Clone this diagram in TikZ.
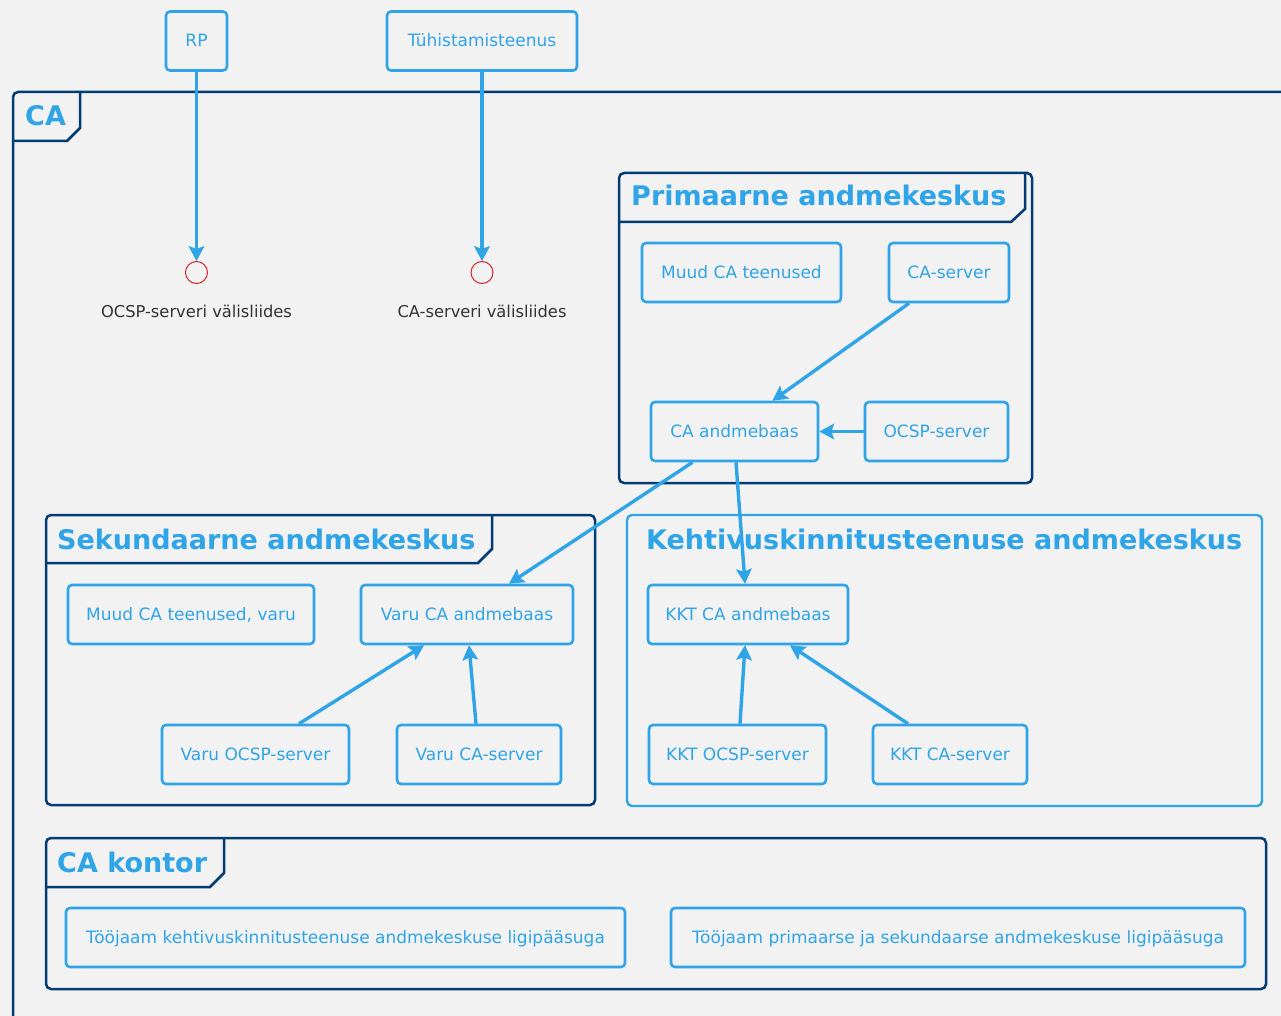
\documentclass[tikz,border=0pt]{standalone}
\usepackage{fontspec}
\setmainfont{DejaVu Sans}
\usetikzlibrary{arrows.meta}

\definecolor{bg}{HTML}{F2F2F2}
\definecolor{cblue}{HTML}{2FA4E7}
\definecolor{cdark}{HTML}{033C73}
\definecolor{cred}{HTML}{D9212C}
\definecolor{ctext}{HTML}{333333}

\tikzset{
  box/.style={draw=cblue, line width=2.6pt, rounded corners=4pt, text=cblue,
    inner sep=0pt, text height=12pt, text depth=0pt,
    font=\fontsize{17}{20}\selectfont, minimum height=59pt},
  frame/.style={draw=cdark, line width=2.5pt, rounded corners=5pt},
  lframe/.style={draw=cblue, line width=2.4pt, rounded corners=5pt},
  tabline/.style={draw=cdark, line width=2.5pt},
  ftitle/.style={anchor=base west, inner sep=0pt, text=cblue,
    font=\fontsize{27}{31}\selectfont\bfseries},
  iface/.style={circle, draw=cred, line width=1pt, minimum size=22pt, inner sep=0pt},
  ilabel/.style={anchor=base, inner sep=0pt, text=ctext,
    font=\fontsize{16.3}{19}\selectfont},
  arr/.style={draw=cblue, line width=3.4pt,
    -{Stealth[length=15pt, width=16pt, inset=3pt, line width=0.8pt]}},
}

\begin{document}
\begin{tikzpicture}[x=1pt, y=-1pt]
\useasboundingbox (0,0) rectangle (1281,1016);
\fill[bg] (0,0) rectangle (1281,1016);

% outer CA package
\draw[frame] (13,1040) -- (13,92) -- (1300,92);
\draw[tabline] (13,141) -- (67,141) -- (80,128) -- (80,92);
\node[ftitle] (tca) at (25,126) {CA};

% actors outside the package
\node[box, minimum width=61pt] (rp) at (196.5,41) {RP};
\node[box, minimum width=190pt] (tuh) at (482,41) {Tühistamisteenus};

% external interfaces
\node[iface] (ocspif) at (196.5,272.5) {};
\node[iface] (caif) at (482,272.5) {};
\node[ilabel] (locspif) at (196.5,317) {OCSP-serveri välisliides};
\node[ilabel] (lcaif) at (482,317) {CA-serveri välisliides};

% primary data centre
\draw[frame] (619,173) rectangle (1032,483);
\draw[tabline] (619,222) -- (1011,222) -- (1025,209) -- (1025,173);
\node[ftitle] (tprim) at (631,206) {Primaarne andmekeskus};
\node[box, minimum width=199pt] (muud) at (741.5,272.5) {Muud CA teenused};
\node[box, minimum width=120pt] (caserver) at (949,272.5) {CA-server};
\node[box, minimum width=167pt] (cadb) at (734.5,431.5) {CA andmebaas};
\node[box, minimum width=143pt] (ocsp) at (936.5,431.5) {OCSP-server};

% secondary data centre
\draw[frame] (46,515) rectangle (595,805);
\draw[tabline] (46,563) -- (478,563) -- (492,549) -- (492,515);
\node[ftitle] (tsek) at (57,549) {Sekundaarne andmekeskus};
\node[box, minimum width=246pt] (muudvaru) at (191,614.5) {Muud CA teenused, varu};
\node[box, minimum width=212pt] (varudb) at (467,614.5) {Varu CA andmebaas};
\node[box, minimum width=187pt] (varuocsp) at (255.5,754.5) {Varu OCSP-server};
\node[box, minimum width=164pt] (varuca) at (479,754.5) {Varu CA-server};

% validation service data centre
\draw[lframe] (627,515) rectangle (1262,806);
\node[ftitle] (tkkt) at (646,549) {Kehtivuskinnitusteenuse andmekeskus};
\node[box, minimum width=200pt] (kktdb) at (748,614.5) {KKT CA andmebaas};
\node[box, minimum width=177pt] (kktocsp) at (737.5,754.5) {KKT OCSP-server};
\node[box, minimum width=154pt] (kktca) at (950,754.5) {KKT CA-server};

% office
\draw[frame] (46,838) rectangle (1266,989);
\draw[tabline] (46,887) -- (210,887) -- (224,873) -- (224,838);
\node[ftitle] (tkontor) at (57,872) {CA kontor};
\node[box, minimum width=559pt] (tj1) at (345.5,937.5) {Tööjaam kehtivuskinnitusteenuse andmekeskuse ligipääsuga};
\node[box, minimum width=574pt] (tj2) at (958,937.5) {Tööjaam primaarse ja sekundaarse andmekeskuse ligipääsuga};

% connectors
\draw[arr] (rp.south) -- (ocspif.north);
\draw[arr] (tuh.south) -- (caif.north);
\draw[arr] ([xshift=-40pt]caserver.south) -- ([xshift=38pt]cadb.north);
\draw[arr] (ocsp.west) -- (cadb.east);
\draw[arr] ([xshift=-42pt]cadb.south) -- ([xshift=42pt]varudb.north);
\draw[arr] ([xshift=1.5pt]cadb.south) -- ([xshift=-3pt]kktdb.north);
\draw[arr] ([xshift=43.5pt]varuocsp.north) -- ([xshift=-43pt]varudb.south);
\draw[arr] ([xshift=-3pt]varuca.north) -- ([xshift=2pt]varudb.south);
\draw[arr] ([xshift=2.5pt]kktocsp.north) -- ([xshift=-3pt]kktdb.south);
\draw[arr] ([xshift=-42pt]kktca.north) -- ([xshift=42pt]kktdb.south);
\end{tikzpicture}
\end{document}
